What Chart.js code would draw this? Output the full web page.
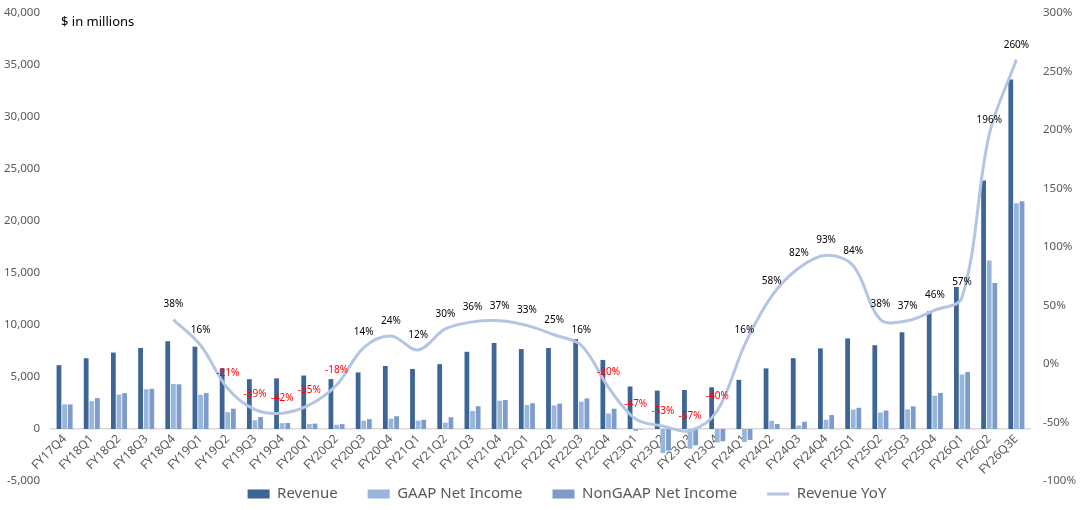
<!DOCTYPE html>
<html><head><meta charset="utf-8">
<script src="https://cdn.jsdelivr.net/npm/chart.js@4.4.1/dist/chart.umd.min.js"></script>
<style>
html,body{margin:0;padding:0;background:#fff;}
#wrap{position:relative;width:1080px;height:510px;}
#unit{position:absolute;left:61px;top:12px;font:13px 'Noto Sans',sans-serif;color:#000;white-space:nowrap;}
</style></head><body>
<div id="wrap"><canvas id="c" width="1080" height="510"></canvas><div id="unit">$ in millions</div></div>
<script>
const categories = ['FY17Q4','FY18Q1','FY18Q2','FY18Q3','FY18Q4','FY19Q1','FY19Q2','FY19Q3','FY19Q4','FY20Q1','FY20Q2','FY20Q3','FY20Q4','FY21Q1','FY21Q2','FY21Q3','FY21Q4','FY22Q1','FY22Q2','FY22Q3','FY22Q4','FY23Q1','FY23Q2','FY23Q3','FY23Q4','FY24Q1','FY24Q2','FY24Q3','FY24Q4','FY25Q1','FY25Q2','FY25Q3','FY25Q4','FY26Q1','FY26Q2','FY26Q3E'];
const revenue = [6138,6803,7351,7797,8440,7913,5835,4788,4870,5144,4797,5438,6056,5773,6236,7422,8274,7687,7786,8642,6643,4085,3693,3752,4010,4726,5824,6811,7750,8709,8053,9301,11315,13643,23900,33600];
const gaapNetIncome = [2370,2678,3309,3823,4325,3293,1619,840,561,491,405,803,988,803,603,1735,2720,2306,2263,2626,1492,-195,-2312,-1896,-1300,-1250,793,332,887,1870,1583,1885,3201,5240,16200,21700];
const nonGaapNetIncome = [2360,2970,3450,3870,4300,3450,1950,1150,580,520,470,950,1230,890,1130,2190,2780,2480,2440,2940,1950,-50,-2080,-1570,-1180,-1050,480,700,1340,2040,1780,2180,3470,5480,14050,21900];
const revenueYoY = [null,null,null,null,38,16,-21,-39,-42,-35,-18,14,24,12,30,36,37,33,25,16,-20,-47,-53,-57,-40,16,58,82,93,84,38,37,46,57,196,260];
const seriesNames = ['Revenue','GAAP Net Income','NonGAAP Net Income','Revenue YoY'];
const leftRange = {min:-5000, max:40000, step:5000};
const rightRange = {min:-100, max:300, step:50};

const FONT = "'Noto Sans', sans-serif";
const GRAY = '#595959';

const yoyLabels = {
  id: 'yoyLabels',
  afterDatasetsDraw(chart) {
    const meta = chart.getDatasetMeta(3);
    const ctx = chart.ctx;
    ctx.save();
    ctx.font = "10px " + FONT;
    ctx.textAlign = 'center';
    ctx.textBaseline = 'middle';
    meta.data.forEach((pt, i) => {
      const v = revenueYoY[i];
      if (v === null || v === undefined) return;
      ctx.fillStyle = v < 0 ? '#ff0000' : '#000000';
      ctx.fillText(v + '%', pt.x, pt.y - 15);
    });
    ctx.restore();
  }
};

const legendFix = {
  id: 'legendFix',
  beforeLayout(chart) {
    const lg = chart.legend;
    if (lg && !lg.__patched) {
      const orig = lg.fit;
      lg.fit = function() { orig.apply(this, arguments); this.height = 29; };
      lg.__patched = true;
    }
  },
  afterLayout(chart) {
    const lg = chart.legend;
    if (lg) { lg.top = 456.5; lg.bottom = 510; lg.left += 27; lg.right += 27; }
  }
};

function fixYPadding(s, w) { s.width = w; s.paddingTop = 6; s.paddingBottom = 6; }

new Chart(document.getElementById('c'), {
  type: 'bar',
  data: {
    labels: categories,
    datasets: [
      {label: seriesNames[0], data: revenue, backgroundColor: '#3d6596', borderWidth: 0, yAxisID: 'y', order: 1},
      {label: seriesNames[1], data: gaapNetIncome, backgroundColor: '#98b6dc', borderWidth: 0, yAxisID: 'y', order: 1},
      {label: seriesNames[2], data: nonGaapNetIncome, backgroundColor: '#7e9ccb', borderWidth: 0, yAxisID: 'y', order: 1},
      {type: 'line', label: seriesNames[3], data: revenueYoY, yAxisID: 'y1', borderColor: '#b4c5e3', backgroundColor: '#b4c5e3', borderWidth: 3, pointRadius: 0, pointHoverRadius: 0, tension: 0.35, fill: false, order: 0}
    ]
  },
  options: {
    responsive: false,
    animation: false,
    datasets: {bar: {categoryPercentage: 0.62, barPercentage: 0.85}},
    layout: {padding: {top: 13, left: 0, right: 0, bottom: 0}},
    plugins: {
      tooltip: {enabled: false},
      legend: {
        position: 'bottom',
        labels: {
          usePointStyle: true,
          pointStyleWidth: 22,
          boxHeight: 9,
          padding: 30,
          color: GRAY,
          font: {size: 15, family: FONT},
          sort: (a, b) => a.datasetIndex - b.datasetIndex,
          generateLabels(chart) {
            const items = Chart.defaults.plugins.legend.labels.generateLabels(chart);
            items.forEach(it => {
              it.pointStyle = it.datasetIndex === 3 ? 'line' : 'rect';
              if (it.datasetIndex !== 3) it.lineWidth = 0;
            });
            return items;
          }
        }
      }
    },
    scales: {
      x: {
        position: {y: 0},
        offset: true,
        grid: {display: false, drawTicks: false},
        border: {display: true, color: '#d9d9d9', width: 1.5},
        ticks: {autoSkip: false, maxRotation: 45, minRotation: 45, padding: 3, color: GRAY, font: {size: 12, family: FONT}}
      },
      y: {
        type: 'linear', position: 'left',
        min: leftRange.min, max: leftRange.max,
        grid: {display: false, drawTicks: false},
        border: {display: false},
        ticks: {stepSize: leftRange.step, padding: 11, color: GRAY, font: {size: 11.5, family: FONT},
          callback: v => v.toLocaleString('en-US')},
        afterFit(s) { fixYPadding(s, 51); }
      },
      y1: {
        type: 'linear', position: 'right',
        min: rightRange.min, max: rightRange.max,
        grid: {display: false, drawTicks: false},
        border: {display: false},
        ticks: {stepSize: rightRange.step, padding: 13, color: GRAY, font: {size: 11.5, family: FONT},
          callback: v => v + '%'},
        afterFit(s) { fixYPadding(s, 50); }
      }
    }
  },
  plugins: [yoyLabels, legendFix]
});
</script>
</body></html>
